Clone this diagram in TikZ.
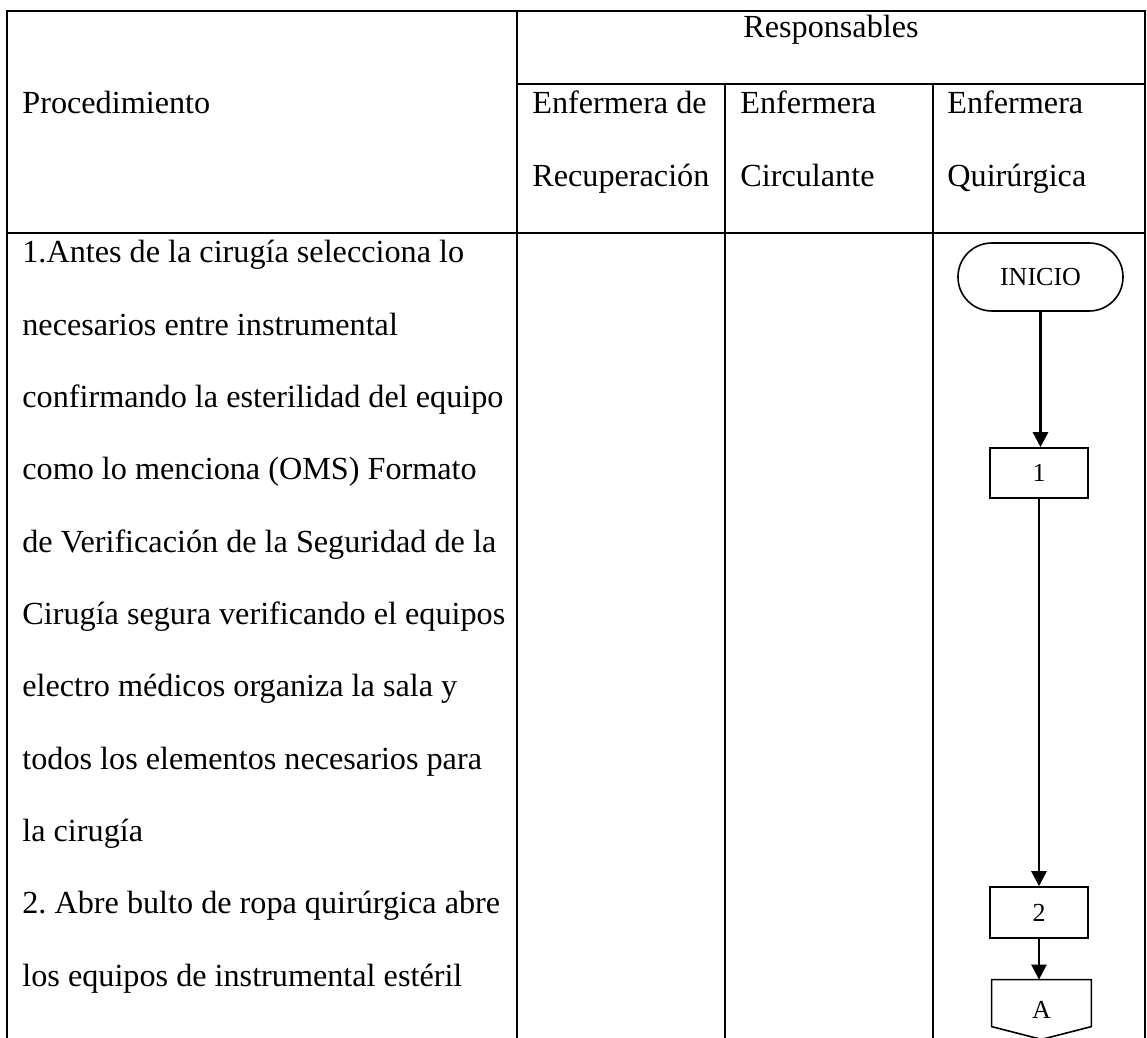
\documentclass[tikz,border=0pt]{standalone}
\usepackage{fontspec}
\setmainfont{Liberation Serif}
\usetikzlibrary{arrows.meta,calc}
\frenchspacing
\newcommand\bodyfnt{\fontsize{16.1}{18}\selectfont}
\newcommand\smallfnt{\fontsize{13}{15}\selectfont}
\tikzset{
  grid/.style={line width=1.1pt, line cap=rect},
  txt/.style={inner sep=0pt, anchor=base west, font=\bodyfnt},
  shp/.style={draw, line width=0.8pt, inner sep=0pt, font=\smallfnt},
  flow/.style={line width=1.3pt, -{Triangle[width=7.5pt,length=7.5pt]}}
}
\begin{document}
\begin{tikzpicture}[x=0.5pt, y=-0.5pt]
\useasboundingbox (0,0) rectangle (1147,1038);
% table grid
\draw[grid] (7,1040) -- (7,11) -- (1145,11) -- (1145,1040);
\draw[grid] (517,11) -- (517,1040);
\draw[grid] (517,84) -- (1145,84);
\draw[grid] (7,233) -- (1145,233);
\draw[grid] (725,84) -- (725,1040);
\draw[grid] (933,84) -- (933,1040);
% header texts
\node[txt, anchor=base] (resp) at (831,38) {Responsables};
\node[txt] (proc) at (22,114) {Procedimiento};
\node[txt] (h1a) at (532,114) {Enfermera de};
\node[txt] (h1b) at (532,187) {Recuperación};
\node[txt] (h2a) at (740,114) {Enfermera};
\node[txt] (h2b) at (740,187) {Circulante};
\node[txt] (h3a) at (947,114) {Enfermera};
\node[txt] (h3b) at (947,187) {Quirúrgica};
% procedure text
\foreach \t [count=\i from 0] in {
  {1.Antes de la cirugía selecciona lo},
  {necesarios entre instrumental},
  {confirmando la esterilidad del equipo},
  {como lo menciona (OMS) Formato},
  {de Verificación de la Seguridad de la},
  {Cirugía segura verificando el equipos},
  {electro médicos organiza la sala y},
  {todos los elementos necesarios para},
  {la cirugía},
  {2. Abre bulto de ropa quirúrgica abre},
  {los equipos de instrumental estéril}}
  \node[txt] (line\i) at (22,{263+72.3*\i}) {\t};
% flowchart
\node[shp, minimum width=82.5pt, minimum height=34pt, rounded corners=16.9pt] (inicio) at (1040.5,277) {INICIO};
\node[shp, minimum width=49pt, minimum height=25pt] (s1) at (1039,473) {1};
\node[shp, minimum width=49pt, minimum height=25.5pt] (s2) at (1039,912.5) {2};
\node[inner sep=0pt, minimum width=49.5pt, minimum height=29.5pt, font=\smallfnt] (conA) at (1041.5,1009.5) {A};
\draw[line width=0.8pt] (conA.north west) -- (conA.north east) -- ($(conA.north east)+(0,47)$) -- (conA.south) -- ($(conA.north west)+(0,47)$) -- cycle;
\draw[flow] (inicio.south) -- (inicio.south |- s1.north);
\draw[flow] (s1.south) -- (s2.north);
\draw[flow] (s2.south) -- (s2.south |- conA.north);
\end{tikzpicture}
\end{document}
